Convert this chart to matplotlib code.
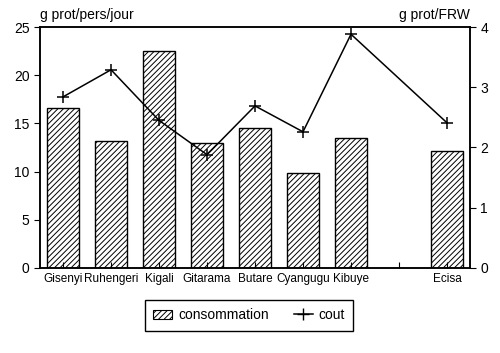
import matplotlib.pyplot as plt
from matplotlib.lines import Line2D
from matplotlib.patches import Patch

# prefectures (slot 7 is left empty in the original)
regions = ["Gisenyi", "Ruhengeri", "Kigali", "Gitarama", "Butare", "Cyangugu", "Kibuye", "", "Ecisa"]
consommation = [16.6, 13.2, 22.5, 13.0, 14.5, 9.9, 13.5, None, 12.1]
cout = [2.84, 3.29, 2.45, 1.88, 2.69, 2.26, 3.88, None, 2.41]

plt.rcParams['font.family'] = ['Liberation Sans', 'DejaVu Sans']
plt.rcParams['hatch.linewidth'] = 0.7

fig = plt.figure(figsize=(5, 3.53), dpi=100)
ax = fig.add_axes([0.08, 0.241, 0.86, 0.6825])

xs = [i for i, v in enumerate(consommation) if v is not None]
bars = [consommation[i] for i in xs]
ax.bar(xs, bars, width=0.67, facecolor='white', edgecolor='black',
       hatch='//////', linewidth=1.0)

ax.set_xlim(-0.48, 8.48)
ax.set_ylim(0, 25)
ax.set_yticks([0, 5, 10, 15, 20, 25])
ax.set_xticks(range(len(regions)))
ax.set_xticklabels(regions, fontsize=8.5)
ax.tick_params(axis='x', direction='in', length=4, pad=4)
ax.tick_params(axis='y', direction='out', length=4, labelsize=10)

ax2 = ax.twinx()
cx = [i for i, v in enumerate(cout) if v is not None]
cy = [cout[i] for i in cx]
ax2.plot(cx, cy, color='black', linewidth=1.1, marker='+', markersize=9,
         markeredgewidth=1.1)
ax2.set_ylim(0, 4)
ax2.set_yticks([0, 1, 2, 3, 4])
ax2.tick_params(axis='y', direction='out', length=4, labelsize=10)

for a in (ax, ax2):
    for s in a.spines.values():
        s.set_linewidth(1.1)

fig.text(0.08, 0.938, "g prot/pers/jour", fontsize=10, ha='left', va='bottom')
fig.text(0.94, 0.938, "g prot/FRW", fontsize=10, ha='right', va='bottom')

handles = [Patch(facecolor='white', edgecolor='black', hatch='//////', linewidth=0.8),
           Line2D([], [], color='black', marker='+', markersize=9, linewidth=1.1)]
leg = fig.legend(handles, ["consommation", "cout"], loc='center',
                 bbox_to_anchor=(0.498, 0.107), ncol=2, fontsize=10,
                 fancybox=False, edgecolor='black', framealpha=1,
                 handlelength=1.4, handletextpad=0.4, columnspacing=1.8,
                 borderpad=0.6)
leg.get_frame().set_linewidth(1.0)

fig.savefig("out.png", dpi=100)
